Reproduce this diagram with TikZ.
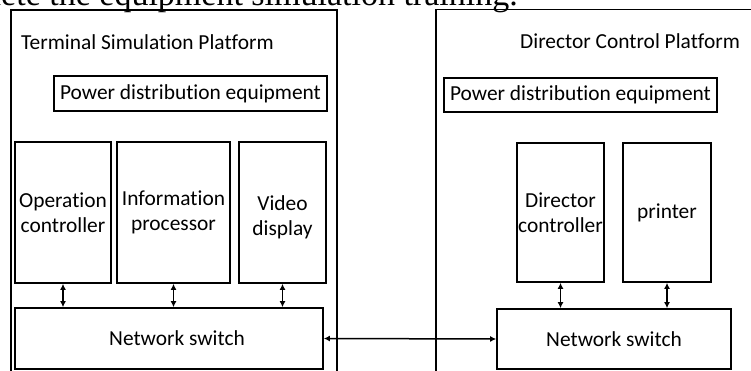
\documentclass[tikz,border=0pt]{standalone}
\usepackage{fontspec}
\setmainfont{Carlito}[Ligatures=NoCommon]
\newfontfamily\captionserif{Liberation Serif}
\usetikzlibrary{arrows.meta}

\tikzset{
  frame/.style={draw=black, line width=1.7pt},
  unit/.style={draw=black, line width=1.7pt, rectangle, inner sep=0pt,
               align=center, font=\fontsize{21.4}{25.5}\selectfont},
  heading/.style={inner sep=0pt, font=\fontsize{21.4}{25.5}\selectfont},
  link/.style={line width=1.5pt, {Latex[length=6pt,width=6pt]}-{Latex[length=6pt,width=6pt]}}
}

\begin{document}
\begin{tikzpicture}[x=1pt, y=-1pt]
\useasboundingbox (0,0) rectangle (751,371);
\clip (0,0) rectangle (751,371);
\fill[white] (0,0) rectangle (751,371);

% running text of the page above the figure
\node[anchor=base west, inner sep=0pt, font=\captionserif\fontsize{34}{36}\selectfont] (caption)
  at (1,5.5) {\llap{compl}ete the equipment simulation training.};

% platform frames (open towards the page edge)
\draw[frame] (11,400) -- (11,10) -- (337,10) -- (337,400);
\draw[frame] (436,400) -- (436,9.5) -- (800,9.5);

\node[heading, anchor=base west] (tsp) at (21,50) {Terminal Simulation Platform};
\node[heading, anchor=base west] (dcp) at (520,49) {Director Control Platform};

% terminal simulation platform
\node[unit, minimum width=273, minimum height=35] (pwl) at (190.5,93.5) {Power distribution equipment};
\node[unit, minimum width=96, minimum height=141] (oc) at (63,212.5) {Operation\\controller};
\node[unit, minimum width=113, minimum height=141] (ip) at (173.5,212.5) {Information\\processor};
\node[unit, minimum width=87, minimum height=141,
      label={[heading, align=center, yshift=-5pt]center:Video\\display}] (vd) at (282.5,212.5) {};
\node[unit, minimum width=308, minimum height=61,
      label={[heading, xshift=8pt]center:Network switch}] (nsl) at (169,338.5) {};

% director control platform
\node[unit, minimum width=273, minimum height=34] (pwr) at (580.5,95) {Power distribution equipment};
\node[unit, minimum width=87, minimum height=139] (dc) at (560.5,212.5) {Director\\controller};
\node[unit, minimum width=88, minimum height=139] (pr) at (667,212.5) {printer};
\node[unit, minimum width=234, minimum height=60] (nsr) at (614,339) {Network switch};

% connections
\draw[link] (oc.south) -- (oc.south |- nsl.north);
\draw[link] (ip.south) -- (ip.south |- nsl.north);
\draw[link] (vd.south) -- (vd.south |- nsl.north);
\draw[link] (dc.south) -- (dc.south |- nsr.north);
\draw[link] (pr.south) -- (pr.south |- nsr.north);
\draw[link] (nsl.east) -- (nsr.west);
\end{tikzpicture}
\end{document}
